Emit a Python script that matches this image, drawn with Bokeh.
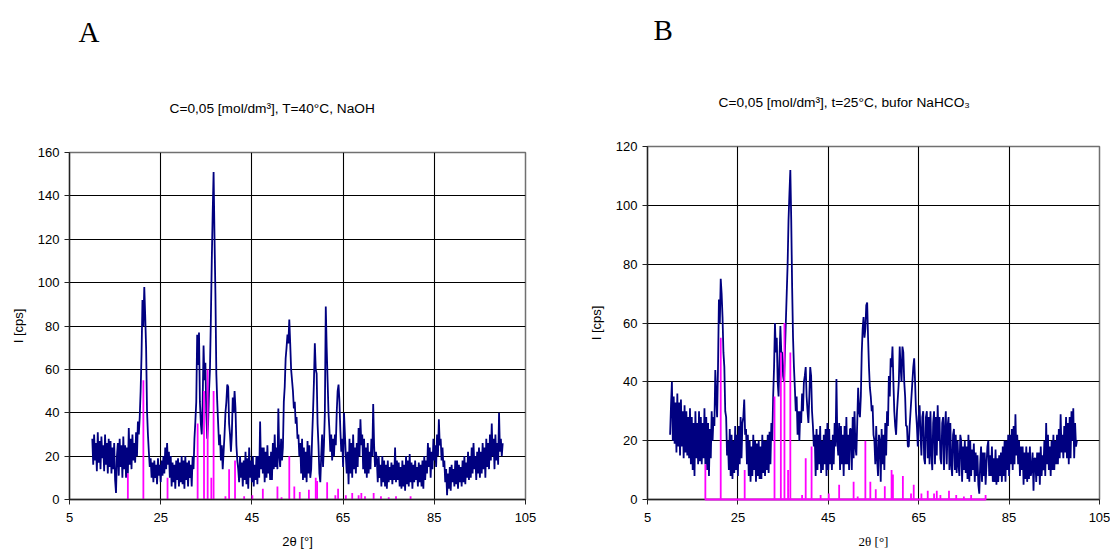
import numpy as np
from bokeh.plotting import figure
from bokeh.layouts import row, column
from bokeh.models import FixedTicker, Range1d, Title
from bokeh.embed import file_html
from bokeh.resources import INLINE

# ---------------- data ----------------
scan_start = 10.0   # 2theta of first point [deg]
scan_step = 0.2     # step of the scan [deg]

intensity_a = [
    28, 16, 30, 18, 26, 13, 31, 17, 27, 14, 29, 19, 25, 13, 30, 16, 26, 12, 28, 15,
    27, 12, 24, 14, 26, 9, 3, 20, 26, 11, 28, 15, 25, 10, 29, 14, 25, 10, 24, 12,
    33, 16, 28, 14, 30, 18, 26, 17, 31, 20, 36, 30, 38, 50, 67, 92, 80, 98, 85, 70,
    41, 30, 22, 15, 19, 10, 17, 8, 18, 10, 16, 7, 19, 11, 16, 8, 18, 11, 20, 12,
    24, 14, 26, 16, 22, 10, 20, 6, 17, 8, 16, 5, 18, 9, 19, 6, 17, 8, 20, 7,
    18, 5, 20, 9, 17, 6, 18, 10, 16, 6, 20, 14, 28, 36, 45, 76, 62, 77, 45, 35,
    30, 45, 71, 55, 63, 40, 28, 35, 50, 60, 83, 110, 132, 151, 121, 95, 58, 45, 35, 25,
    30, 18, 25, 14, 22, 30, 40, 45, 53, 52, 35, 30, 22, 30, 47, 40, 50, 42, 25, 18,
    14, 8, 20, 10, 17, 6, 18, 9, 22, 7, 19, 5, 24, 10, 18, 8, 20, 6, 16, 9,
    20, 7, 20, 10, 36, 14, 24, 12, 24, 8, 22, 10, 25, 12, 20, 9, 22, 9, 26, 14,
    30, 15, 24, 14, 42, 20, 15, 28, 18, 24, 45, 52, 65, 70, 76, 72, 83, 72, 60, 55,
    50, 42, 45, 35, 38, 28, 30, 20, 26, 12, 28, 9, 24, 10, 22, 8, 27, 12, 25, 10,
    14, 28, 40, 54, 72, 60, 58, 35, 25, 12, 8, 20, 30, 15, 25, 40, 89, 70, 55, 40,
    32, 22, 30, 18, 28, 20, 30, 25, 40, 50, 53, 45, 32, 22, 28, 15, 40, 30, 20, 12,
    22, 7, 28, 12, 26, 10, 30, 14, 24, 12, 26, 15, 33, 20, 37, 25, 30, 14, 28, 12,
    24, 10, 26, 12, 22, 14, 28, 20, 44, 25, 15, 22, 18, 8, 20, 10, 16, 6, 20, 8,
    18, 6, 16, 5, 18, 8, 15, 9, 17, 7, 16, 9, 24, 8, 18, 9, 17, 6, 15, 5,
    18, 6, 16, 4, 20, 7, 18, 6, 21, 8, 17, 5, 16, 8, 18, 9, 15, 6, 17, 8,
    16, 6, 18, 5, 20, 9, 18, 12, 26, 15, 24, 10, 22, 14, 28, 18, 25, 15, 30, 20,
    37, 25, 28, 18, 24, 15, 18, 8, 14, 2, 12, 5, 15, 4, 16, 8, 14, 6, 18, 7,
    18, 5, 16, 8, 15, 6, 18, 8, 20, 7, 17, 10, 22, 9, 20, 10, 24, 12, 26, 14,
    20, 9, 22, 12, 24, 10, 22, 12, 26, 14, 24, 10, 28, 15, 26, 14, 30, 18, 35, 20,
    28, 14, 30, 18, 26, 16, 40, 22, 28, 20, 26,
]

intensity_b = [
    22, 32, 40, 20, 35, 19, 33, 16, 36, 18, 33, 15, 34, 18, 30, 14, 32, 16, 30, 15,
    28, 14, 31, 12, 28, 10, 26, 8, 30, 14, 26, 12, 30, 13, 28, 12, 26, 14, 31, 12,
    28, 10, 26, 8, 24, 14, 30, 20, 28, 25, 44, 35, 28, 45, 68, 60, 75, 70, 62, 50,
    45, 30, 28, 15, 20, 10, 24, 8, 22, 7, 20, 9, 25, 10, 22, 8, 25, 12, 28, 14,
    26, 28, 34, 22, 24, 12, 22, 8, 20, 6, 18, 8, 22, 10, 20, 6, 19, 8, 20, 7,
    18, 7, 22, 9, 20, 8, 20, 10, 22, 9, 23, 12, 26, 20, 35, 45, 60, 50, 55, 40,
    35, 48, 59, 50, 50, 42, 40, 50, 60, 70, 80, 95, 104, 112, 95, 72, 55, 45, 38, 30,
    35, 22, 30, 20, 30, 26, 36, 30, 40, 42, 45, 35, 30, 26, 35, 45, 42, 30, 25, 18,
    22, 8, 24, 10, 22, 12, 25, 9, 20, 10, 22, 12, 24, 8, 26, 10, 24, 12, 20, 10,
    22, 12, 26, 18, 41, 20, 15, 26, 10, 25, 12, 22, 8, 25, 12, 28, 12, 22, 10, 24,
    24, 10, 28, 14, 30, 18, 15, 26, 38, 30, 28, 35, 50, 58, 62, 55, 58, 66, 67, 55,
    45, 38, 35, 30, 32, 22, 20, 12, 25, 14, 8, 22, 20, 6, 24, 12, 22, 10, 26, 15,
    30, 25, 42, 35, 48, 45, 52, 40, 30, 25, 22, 30, 35, 40, 52, 45, 40, 52, 50, 40,
    35, 25, 25, 18, 18, 25, 30, 35, 40, 45, 48, 40, 30, 25, 18, 28, 32, 22, 15, 28,
    30, 14, 12, 28, 30, 14, 28, 12, 30, 16, 10, 26, 30, 12, 28, 15, 32, 20, 28, 14,
    12, 26, 28, 10, 24, 30, 12, 25, 28, 10, 26, 12, 8, 22, 24, 10, 22, 9, 20, 12,
    8, 22, 20, 6, 18, 10, 20, 9, 18, 7, 22, 6, 20, 8, 17, 10, 19, 6, 16, 8,
    15, 5, 2, 12, 18, 6, 16, 8, 16, 5, 12, 18, 20, 8, 15, 8, 18, 6, 14, 6,
    17, 5, 14, 6, 15, 8, 16, 6, 18, 8, 20, 6, 20, 10, 22, 8, 22, 12, 24, 10,
    25, 12, 29, 15, 22, 12, 20, 8, 18, 10, 18, 5, 16, 7, 18, 6, 16, 7, 18, 8,
    10, 16, 3, 14, 14, 6, 16, 8, 16, 5, 18, 8, 15, 10, 20, 8, 26, 12, 22, 10,
    18, 8, 20, 10, 22, 10, 20, 12, 22, 12, 24, 14, 29, 16, 22, 14, 25, 16, 28, 14,
    26, 12, 28, 14, 30, 20, 31, 14, 26, 18, 20,
]

# reference (stick) pattern
ref_pos = [17.8, 21.2, 26.5, 33.1, 34.5, 35.3, 36.1, 36.6, 39.2, 40.0,
           41.3, 43.3, 45.1, 47.4, 50.6, 51.5, 53.2, 54.3, 55.5, 57.5,
           59.0, 59.3, 61.5, 63.3, 63.9, 65.6, 67.0, 68.4, 69.0, 69.8,
           71.7, 73.3, 75.0, 76.6, 79.8]
ref_int = [12, 55, 10, 35, 50, 60, 10, 50, 1.5, 14,
           18, 1.5, 2, 5, 6, 1, 20, 6, 3.5, 4.5,
           10, 8.5, 8, 2, 5, 2, 3, 2, 3, 1.5,
           3, 1.5, 1, 1.5, 1.5]

x_ticks = [5, 25, 45, 65, 85, 105]
y_ticks_a = [0, 20, 40, 60, 80, 100, 120, 140, 160]
y_ticks_b = [0, 20, 40, 60, 80, 100, 120]

subtitle_a = "C=0,05 [mol/dm³], T=40°C, NaOH"
subtitle_b = "C=0,05 [mol/dm³], t=25°C, bufor NaHCO₃"

SANS = "Liberation Sans"
SERIF = "Liberation Serif"


def make_panel(intensity, yticks, letter, subtitle, width, height,
               left, right, bottom, xlabel_font, letter_off, sub_off,
               sub_standoff, letter_standoff, stick_baseline):
    ymax = yticks[-1]
    x = scan_start + scan_step * np.arange(len(intensity))
    p = figure(width=width, height=height,
               x_range=Range1d(5, 105), y_range=Range1d(0, ymax),
               output_backend="svg", toolbar_location=None,
               min_border_left=left, min_border_top=0,
               min_border_right=right, min_border_bottom=bottom)
    p.background_fill_color = "white"
    p.border_fill_color = "white"
    p.outline_line_color = "#707070"
    p.outline_line_width = 1.5

    p.line(x, intensity, line_color="#000080", line_width=1.8)
    if stick_baseline:
        sx, sy = [], []
        for pos, h in zip(ref_pos, ref_int):
            sx += [pos, pos, pos]
            sy += [0, h, 0]
        r = p.line(sx, sy, line_color="#FF00FF", line_width=1.8)
        r.level = "overlay"
    else:
        p.segment(x0=ref_pos, y0=[0] * len(ref_pos), x1=ref_pos, y1=ref_int,
                  line_color="#FF00FF", line_width=1.8)

    for ax in (p.xaxis, p.yaxis):
        ax.major_label_text_font = SANS
        ax.major_label_text_font_size = "13px"
        ax.major_label_text_color = "black"
        ax.axis_line_color = "#222222"
        ax.axis_line_width = 1.3
        ax.major_tick_line_color = "#222222"
        ax.major_tick_out = 5
        ax.major_tick_in = 0
        ax.minor_tick_line_color = None
        ax.axis_label_text_font_size = "13px"
        ax.axis_label_text_font_style = "normal"
        ax.axis_label_text_color = "black"
    p.xaxis.ticker = FixedTicker(ticks=x_ticks)
    p.yaxis.ticker = FixedTicker(ticks=yticks)
    p.xaxis.major_label_standoff = 8
    p.yaxis.major_label_standoff = 5
    p.xaxis.axis_label = "2θ [°]"
    p.xaxis.axis_label_text_font = xlabel_font
    p.xaxis.axis_label_standoff = 9
    p.yaxis.axis_label = "I [cps]"
    p.yaxis.axis_label_text_font = SANS
    p.yaxis.axis_label_standoff = 9

    for g in (p.xgrid, p.ygrid):
        g.grid_line_color = "black"
        g.grid_line_width = 1.1
        g.grid_line_alpha = 1.0

    p.add_layout(Title(text=subtitle, align="left", offset=sub_off,
                       text_font=SANS, text_font_size="13.7px",
                       text_font_style="normal", text_color="black",
                       standoff=sub_standoff), "above")
    p.add_layout(Title(text=letter, align="left", offset=letter_off,
                       text_font=SERIF, text_font_size="29px",
                       text_font_style="normal", text_color="black",
                       standoff=letter_standoff), "above")
    return p


pa = make_panel(intensity_a, y_ticks_a, "A", subtitle_a, 560, 552,
                69, 35, 53, SANS, 9, 100, 74, 27, False)
pb = make_panel(intensity_b, y_ticks_b, "B", subtitle_b, 550, 552,
                87, 11, 53, SERIF, 6, 71, 73, 22, True)

layout = row(column(pa), column(pb), spacing=0)
open("out.html", "w").write(file_html(layout, INLINE))
